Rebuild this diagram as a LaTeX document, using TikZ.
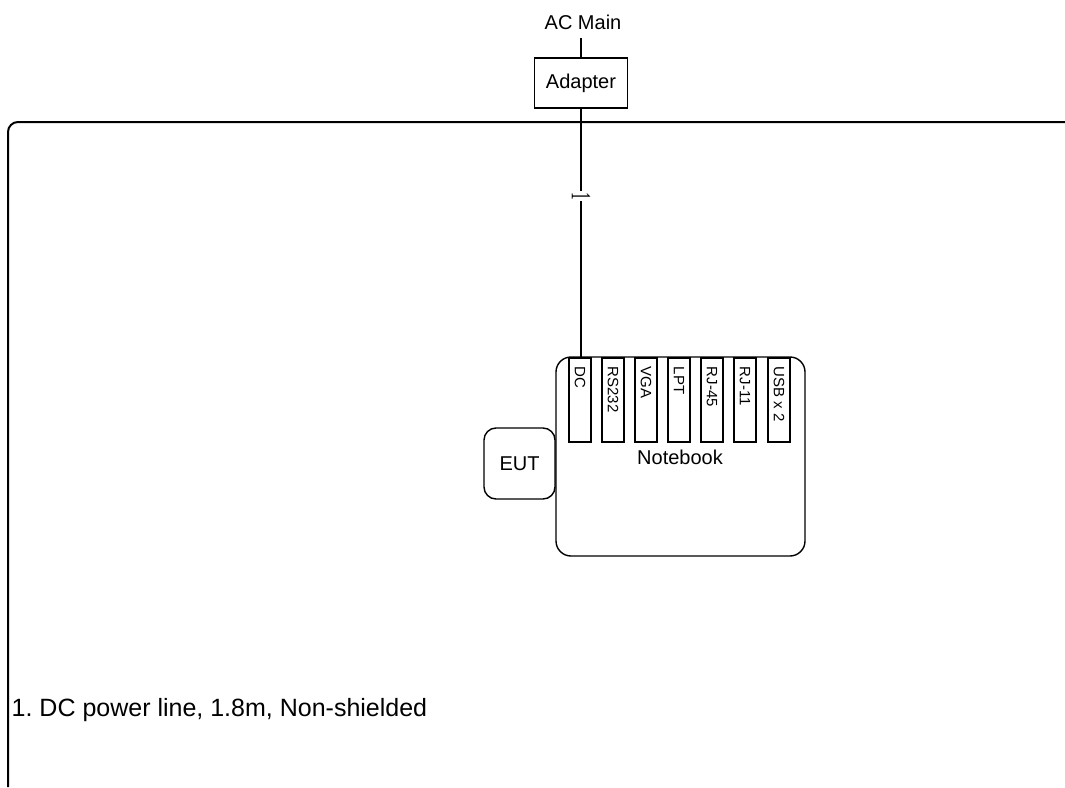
\documentclass[tikz,border=0pt]{standalone}
\usepackage{fontspec}
\setmainfont{Liberation Sans}
\newfontfamily\serifnum{Liberation Serif}
\frenchspacing
\begin{document}
\begin{tikzpicture}[x=1pt,y=-1pt,
  line width=1.4pt,
  txt/.style={inner sep=0pt, font=\fontsize{20}{24}\selectfont},
  box/.style={draw, inner sep=0pt, font=\fontsize{20}{24}\selectfont},
  portbox/.style={draw, minimum width=22pt, minimum height=84pt, inner sep=0pt},
  portlab/.style={rotate=-90, anchor=west, inner sep=0pt, font=\fontsize{15}{18}\selectfont},
  frame/.style={line width=2pt, rounded corners=10pt}]
\useasboundingbox (0,0) rectangle (1065,787);
\fill[white] (0,0) rectangle (1065,787);
% outer frame
\coordinate (fr) at (1065,122);
\coordinate (fc) at (8,122);
\coordinate (fb) at (8,787);
\draw[frame] (fr) -- (fc) -- (fb);
% top
\node[txt] (acm) at (583,22) {AC Main};
\node[box, minimum width=93pt, minimum height=50pt] (ad) at (581,83) {Adapter};
\coordinate (acs) at (581,38);
\draw (acs) -- (ad.north);
% notebook
\node[draw, rounded corners=15pt, minimum width=249pt, minimum height=199pt, inner sep=0pt] (nb) at (680.5,456.5) {};
\node[txt] (nbl) at (680,457) {Notebook};
\node[box, rounded corners=12pt, minimum width=71pt, minimum height=71pt] (eut) at (519.5,463.5) {EUT};
% ports
\foreach \i/\x/\t in {1/580/DC,2/613/RS232,3/646/VGA,4/679/LPT,5/712/RJ-45,6/745/RJ-11,7/779/USB x 2}{
  \node[portbox] (p\i) at (\x,400) {};
  \node[portlab] (pl\i) at (\x,366) {\t};
}
% cable 1
\draw (ad.south) -- (ad.south |- p1.north);
\node[rotate=-90, fill=white, inner sep=1pt, font=\serifnum\fontsize{28}{30}\selectfont] (c1) at (581,196) {\scalebox{0.55}[1]{1}};
% legend
\node[anchor=base west, inner sep=0pt, font=\fontsize{25}{28}\selectfont] (leg) at (11,716) {1. DC power line, 1.8m, Non-shielded};
\end{tikzpicture}
\end{document}
